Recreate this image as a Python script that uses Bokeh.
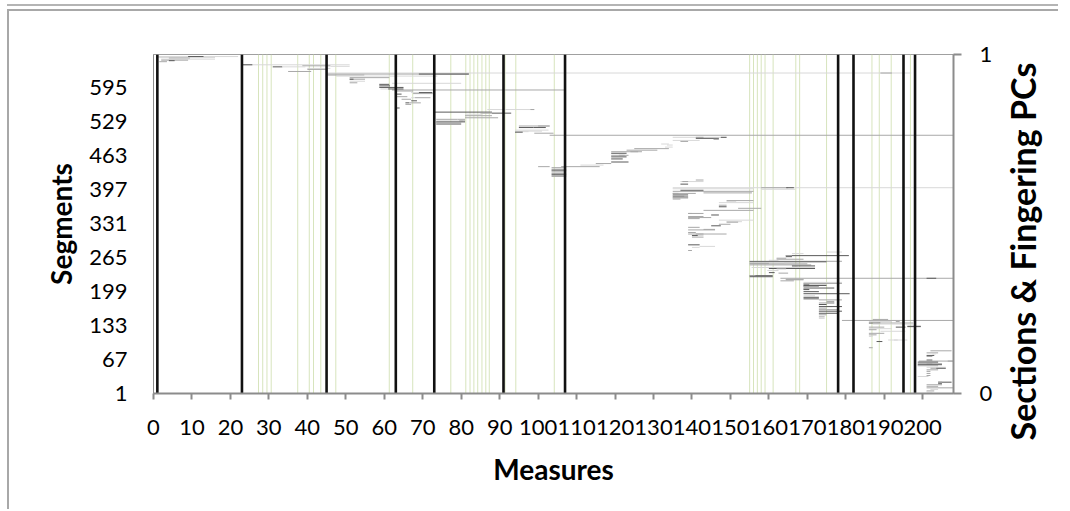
from bokeh.plotting import figure
from bokeh.layouts import row
from bokeh.models import Range1d, LinearAxis, FixedTicker, ColumnDataSource
from bokeh.embed import file_html
from bokeh.resources import INLINE

# ---------------- data ----------------
x_ticks = list(range(0, 201, 10))
y_ticks = [1, 67, 133, 199, 265, 331, 397, 463, 529, 595]
pc_ticks = [0, 1]
pc_span = [0, 1]

# section boundaries (measures)
sections = [1, 23, 45, 63, 73, 91, 107, 178, 182, 195, 198]
# fingering PCs (measures)
fingering = [27.3, 28.4, 29.5, 30.6, 37.5, 40.5, 41.6, 43.5, 47.4, 61.3, 67.4,
             77.3, 81.2, 82.3, 83.3, 84.3, 85.4, 86.4, 87.3, 91.4, 94.2, 104.2,
             155.0, 156.0, 157.0, 158.0, 159.0, 161.1, 167.0, 168.0, 175.0,
             186.8, 188.7, 191.8, 196.8]

# segments: row (segment number), start measure, end measure, tone (l/m/d)
seg_row = [
    624, 622, 622, 624, 591, 503, 401, 401, 401, 225, 225, 143,
    656, 656, 654, 653, 651, 649, 648, 646,
    640, 640, 638, 637, 636, 636, 633, 631, 627,
    620, 618, 615, 612, 612, 608, 605, 604, 602, 599, 596, 593, 593,
    589, 586, 586, 584, 583, 578, 576, 576, 573, 570, 566, 566, 563, 556,
    553, 553, 548, 546, 546, 544, 541, 537, 534, 534, 531, 531, 529, 528, 526, 524,
    521, 521, 518, 518, 513, 511, 510, 509, 507,
    499, 499, 499, 497, 495, 493, 491, 486, 484, 480, 477, 474, 471, 471, 468,
    464, 464, 461, 457, 451, 448, 445, 442, 442,
    440, 437, 435, 433, 431, 429, 427, 425, 423,
    416, 413, 413, 408, 399, 398, 396, 394, 391, 390, 390, 387, 385, 383, 381, 379,
    376, 374, 372, 367, 364, 361, 357, 351, 351, 348, 345, 343, 341, 338, 335, 334,
    330, 327, 324, 320, 319, 314, 311, 311, 308, 308, 305, 290, 287, 285, 279,
    276, 273, 269, 269, 267, 264, 262, 260, 258, 258, 257, 255, 254, 253, 251,
    249, 249, 246, 244, 243, 240, 240, 236, 235, 230, 230, 228, 223, 222, 220,
    217, 215, 214, 212, 211, 209, 209, 206, 206, 204, 203, 199, 195, 191, 188,
    185, 185, 183, 180, 177, 177, 174, 170, 170, 167, 164, 161, 157, 154, 150, 147,
    145, 141, 141, 138, 138, 136, 132, 131, 130, 130, 127, 125, 122, 118, 115, 112,
    105, 105, 102, 90,
    84, 80, 78, 75, 73, 66, 64, 64, 62, 59, 59, 57, 55, 52, 50, 50, 47, 44, 40,
    36, 34, 23, 23, 20, 18, 15, 12, 9, 6, 4,
]
seg_from = [
    45, 45, 69, 189, 62, 103, 135, 158, 164.5, 163, 201, 179,
    1, 9, 1, 4, 2, 2, 4, 1.5,
    23, 23, 38.7, 46, 31, 33.5, 40, 40, 35,
    45.2, 47.5, 51, 51, 51, 51, 51, 62, 58.7, 58.7, 58.7, 59, 61,
    63, 67, 69, 67.5, 63, 63, 67, 68, 64.5, 67, 65.5, 66.5, 65.5, 63,
    86.8, 98, 73, 85, 88, 81, 81, 81, 73.5, 79, 73.5, 79.5, 73.5, 73.5, 73.5, 73.5,
    95, 100, 95, 98.8, 94, 96, 94, 94, 99,
    135, 141, 147.5, 141, 145.6, 135, 137, 132, 133.5, 133, 125, 123, 119, 124, 119,
    119, 121, 119, 119, 119, 115, 111, 106, 100,
    103.5, 103.5, 103.5, 103.5, 103.5, 103.5, 103.5, 103.5, 103.5,
    141, 137, 137.5, 137, 135, 158, 137, 135, 143, 135, 135, 135, 135, 135, 135, 135,
    149, 149, 147, 147, 147, 152, 143, 139, 139, 145, 139, 139, 139, 147, 149, 149,
    147, 145, 139, 143, 139, 139, 139, 141, 140, 140, 140, 139, 142, 140, 139,
    175, 166, 164.4, 164.4, 164.4, 162, 162, 160, 155, 175, 155, 155, 155, 155, 155,
    166, 166, 155.5, 160, 162, 159.6, 161, 160, 162.5, 155, 155, 155, 164.4, 164.4, 163,
    169, 169, 169, 169, 169, 169, 169, 169, 170.5, 169, 169, 169, 169, 169, 169,
    169, 172, 173, 175, 173, 175, 173, 175, 173, 173, 173, 173, 173, 173, 173, 173,
    187, 186, 193, 186, 188, 187, 196, 196, 193, 186, 186, 186, 189, 186, 186, 186,
    191, 192.5, 188, 186,
    202, 201, 202.5, 201, 201, 201, 199, 206.5, 198.7, 198.7, 201, 198.7, 198.7, 201, 202, 203.5, 201, 201, 201,
    201, 198.7, 204, 204, 204, 201, 201, 201, 202, 201, 201,
]
seg_to = [
    197, 82, 82, 192, 107, 208, 208, 165, 166.5, 208, 203.5, 208,
    22, 13, 16, 9.5, 16, 9, 5.5, 3.5,
    51, 25.7, 46, 51, 33.5, 39.5, 46, 45, 41,
    54.8, 73.8, 61.3, 55, 52, 55, 53, 80, 61.3, 61.5, 65, 61, 65,
    67.5, 69, 72.5, 72.6, 64.5, 66, 68, 72, 67, 68.5, 66.5, 69.5, 67, 64,
    99, 99, 88, 88, 93, 85.5, 88, 89.6, 79, 81, 80.5, 81, 81, 80, 80, 80,
    103, 103, 98.8, 102, 102.7, 101, 97.5, 96, 104,
    149, 143, 149, 147, 147, 142, 139, 134, 135, 135, 134, 131, 127, 126, 123,
    123.5, 122.5, 123, 122, 123.5, 119, 117, 116, 103,
    107.3, 107.3, 107.3, 107.3, 107.3, 107.3, 107.3, 107.3, 107.3,
    143, 143, 139, 139, 156, 166.8, 143, 156, 155.6, 141, 136.5, 139, 138, 139, 139, 137,
    156, 151.5, 156, 149, 149, 158, 156, 143, 140, 147, 143, 145, 142, 156, 153, 152,
    150, 147.5, 142, 146, 146, 141, 149, 143, 143, 141.5, 143, 142, 146, 142, 140,
    179, 169, 180.8, 166, 166, 164.5, 169, 162.5, 175, 179, 175, 164, 160, 170, 171,
    167.5, 172, 172, 172, 164.5, 161, 162.5, 161.5, 165, 161, 156.5, 161, 169, 169, 166.5,
    179, 179, 175, 170.5, 175, 173, 170.5, 170.5, 177, 170.5, 170.5, 173, 181, 172, 173,
    172, 173, 179, 177, 177, 177, 175, 176.5, 179, 175, 178, 179, 178, 175, 174.5, 174.5,
    191, 192, 194, 189, 197.5, 197.5, 199.5, 199.5, 195.5, 190, 192, 188, 195.5, 190, 188, 187,
    196, 193.5, 189.5, 187,
    207.5, 204, 203.5, 203, 202.5, 202.5, 208, 208, 204, 205, 202.5, 205, 204, 206, 203.5, 206, 204, 202, 202,
    202, 201.5, 207.5, 205, 205, 205, 204, 208, 204, 203, 202.5,
]
seg_tone = list(
    "lmdmmmlmdmdm"
    "ldlmlmdm"
    "ldmldllmm"
    "mlmmdlmldddldm"
    "ldmdmlmmddmmdl"
    "mdmdlmmmmlmdmmmm"
    "mddllldml"
    "mddmlmlllmmmmdm"
    "mdddmlmmm"
    "mdmlmdmmm"
    "lmdlldmmmmdmdmmm"
    "llmdmmmmdmmmllmm"
    "dmmmmmmldmdllml"
    "ldmdmmlmmdlmmml"
    "dldllldmdmdmmml"
    "mmddmmddmdddldd"
    "dmmmmdmdmmddmmlm"
    "lmdmlmddmlmlmmll"
    "ldmm"
    "mldmdmmdmmdmlmdmmmm"
    "ldmdmmmlml"
)

TONE_COLORS = {"l": "#d8d8d8", "m": "#a8a8a8", "d": "#5a5a5a"}

n = min(len(seg_row), len(seg_from), len(seg_to), len(seg_tone))
seg_src = ColumnDataSource(dict(
    row=seg_row[:n], x0=seg_from[:n], x1=seg_to[:n],
    color=[TONE_COLORS[t] for t in seg_tone[:n]],
))

FONT = "Lato"
GRAY_AXIS = "#8c8c8c"

# ---------------- main figure ----------------
p = figure(width=989, height=498, output_backend="svg", toolbar_location=None,
           x_range=Range1d(0, 208), y_range=Range1d(1, 660),
           min_border_left=144, min_border_right=45,
           min_border_top=43, min_border_bottom=116)
p.extra_y_ranges = {"pc": Range1d(0, 1)}
p.xgrid.visible = False
p.ygrid.visible = False
p.outline_line_color = "#a0a0a0"
p.outline_line_width = 1
p.background_fill_color = "white"
p.border_fill_color = "white"

# bottom axis
xa = p.xaxis[0]
xa.ticker = FixedTicker(ticks=x_ticks)
xa.axis_label = "Measures"
xa.axis_label_text_font = FONT
xa.axis_label_text_font_style = "bold"
xa.axis_label_text_font_size = "28px"
xa.axis_label_text_color = "black"
xa.axis_label_standoff = 14
xa.major_label_text_font = FONT
xa.major_label_text_font_size = "22px"
xa.major_label_text_color = "black"
xa.major_label_standoff = 20
xa.major_tick_out = 6
xa.major_tick_in = 0
xa.minor_tick_out = 0
xa.minor_tick_in = 0
xa.axis_line_color = GRAY_AXIS
xa.axis_line_width = 2
xa.major_tick_line_color = GRAY_AXIS
xa.major_tick_line_width = 2

# left axis
ya = p.yaxis[0]
ya.ticker = FixedTicker(ticks=y_ticks)
ya.axis_label = "Segments"
ya.axis_label_text_font = FONT
ya.axis_label_text_font_style = "bold"
ya.axis_label_text_font_size = "28px"
ya.axis_label_text_color = "black"
ya.axis_label_standoff = 8
ya.major_label_text_font = FONT
ya.major_label_text_font_size = "22px"
ya.major_label_text_color = "black"
ya.major_label_standoff = 26
ya.major_tick_out = 0
ya.major_tick_in = 0
ya.minor_tick_out = 0
ya.minor_tick_in = 0
ya.axis_line_color = GRAY_AXIS
ya.axis_line_width = 1

# right axis (0..1)
ra = LinearAxis(y_range_name="pc", ticker=FixedTicker(ticks=pc_ticks))
ra.major_label_text_font = FONT
ra.major_label_text_font_size = "22px"
ra.major_label_text_color = "black"
ra.major_label_standoff = 18
ra.major_tick_out = 8
ra.major_tick_in = 0
ra.minor_tick_out = 0
ra.minor_tick_in = 0
ra.axis_line_color = GRAY_AXIS
ra.axis_line_width = 2
ra.major_tick_line_color = GRAY_AXIS
ra.major_tick_line_width = 2
p.add_layout(ra, "right")

# fingering PC lines
p.segment(x0=fingering, y0=[pc_span[0]] * len(fingering), x1=fingering,
          y1=[pc_span[1]] * len(fingering), y_range_name="pc",
          line_color="#d7e4bd", line_width=1)

# segments
p.segment(x0="x0", y0="row", x1="x1", y1="row", source=seg_src,
          line_color="color", line_width=1)

# section lines
p.segment(x0=sections, y0=[pc_span[0]] * len(sections), x1=sections,
          y1=[pc_span[1]] * len(sections), y_range_name="pc",
          line_color="#111111", line_width=2.6)

# ---------------- narrow figure holding the right-hand title ----------------
unaligned = True
try:
    p.frame_align = False
except Exception:
    unaligned = False

p2 = figure(width=60, height=498, output_backend="svg", toolbar_location=None,
            x_range=Range1d(0, 1), y_range=Range1d(0, 1),
            min_border_left=50, min_border_right=0,
            min_border_top=71 if unaligned else 43,
            min_border_bottom=89 if unaligned else 116)
if unaligned:
    p2.frame_align = False
p2.xaxis.visible = False
p2.xgrid.visible = False
p2.ygrid.visible = False
p2.outline_line_color = None
p2.background_fill_color = "white"
p2.border_fill_color = "white"
ta = p2.yaxis[0]
ta.ticker = FixedTicker(ticks=[])
ta.axis_line_color = None
ta.major_tick_out = 0
ta.major_tick_in = 0
ta.minor_tick_out = 0
ta.minor_tick_in = 0
ta.major_label_text_font_size = "0px"
ta.axis_label = "Sections & Fingering PCs"
ta.axis_label_text_font = FONT
ta.axis_label_text_font_style = "bold"
ta.axis_label_text_font_size = "34px"
ta.axis_label_text_color = "black"
ta.axis_label_standoff = 7

layout = row(p, p2)
layout.styles = {"margin-left": "7px", "margin-top": "9px",
                 "border-top": "2px solid #a8a8a8", "border-left": "2px solid #a8a8a8",
                 "box-shadow": "0 -3px 0 0 #ffffff, 0 -5px 0 0 #b4b4b4"}

open("out.html", "w").write(file_html(layout, INLINE))
